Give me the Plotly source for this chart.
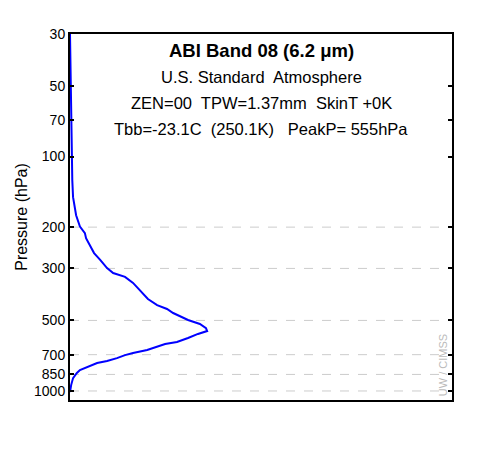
import plotly.graph_objects as go

# weighting function (arbitrary units, 0..1 of plot width)
pressure_hpa = [30, 50, 70, 91, 126, 149, 153, 178, 199, 212, 223, 238, 258, 276,
                299, 314, 326, 346, 371, 405, 430, 447, 465, 484, 498, 518, 539,
                555, 571, 594, 618, 630, 649, 669, 689, 703, 724, 745, 760, 790,
                814, 838, 881, 944, 1010]
weighting = [0.0, 0.002, 0.003, 0.004, 0.006, 0.008, 0.009, 0.016, 0.026, 0.039,
             0.042, 0.052, 0.063, 0.079, 0.097, 0.113, 0.144, 0.165, 0.183, 0.204,
             0.228, 0.254, 0.270, 0.293, 0.309, 0.340, 0.356, 0.359, 0.335, 0.309,
             0.280, 0.249, 0.223, 0.202, 0.165, 0.144, 0.123, 0.097, 0.071, 0.045,
             0.026, 0.018, 0.008, 0.003, 0.0]

tick_values = [30, 50, 70, 100, 200, 300, 500, 700, 850, 1000]
grid_values = [200, 300, 500, 700, 850, 1000]

title_lines = [
    "<b>ABI Band 08 (6.2 \u03bcm)</b>",
    "U.S. Standard  Atmosphere",
    "ZEN=00  TPW=1.37mm  SkinT +0K",
    "Tbb=-23.1C  (250.1K)   PeakP= 555hPa",
]

font_family = "Liberation Sans, Arial, sans-serif"

fig = go.Figure()
fig.add_trace(go.Scatter(
    x=weighting, y=pressure_hpa, mode="lines",
    line=dict(color="#0000ff", width=2), hoverinfo="skip", showlegend=False,
))

# dashed grid only at the lower levels
for p in grid_values:
    fig.add_shape(type="line", xref="paper", yref="y", x0=0, x1=0.985, y0=p, y1=p,
                  line=dict(color="#cccccc", width=1, dash="dash"), layer="below")

fig.update_xaxes(range=[0, 1], showticklabels=False, ticks="", showgrid=False,
                 zeroline=False, showline=True, linecolor="black", linewidth=2,
                 mirror=True)
fig.update_yaxes(type="log", range=[3.0385, 1.4771], tickvals=tick_values,
                 ticktext=[str(v) for v in tick_values], ticks="inside",
                 ticklen=4, tickwidth=2, tickcolor="black", showgrid=False,
                 zeroline=False, showline=True, linecolor="black", linewidth=2,
                 mirror="ticks", automargin=False,
                 title=dict(text="Pressure (hPa)", standoff=2, font=dict(size=16)),
                 tickfont=dict(size=14))

sizes = [18.5, 16.5, 16.5, 16.5]
ys = [50, 77, 103, 129]
for text, size, ypix in zip(title_lines, sizes, ys):
    fig.add_annotation(text=text, xref="paper", yref="paper", x=0.5,
                       y=(400 - ypix) / 366, showarrow=False,
                       font=dict(size=size, color="black"), yanchor="middle")

fig.add_annotation(text="UW / CIMSS", xref="paper", yref="paper",
                   x=(443 - 70) / 382, y=0.005, textangle=-90, showarrow=False,
                   font=dict(size=11, color="#bbbbbb"), xanchor="center",
                   yanchor="bottom")

# page body adds 8px, so margins are 8px smaller than the pixel positions
fig.update_layout(
    width=500, height=450,
    margin=dict(l=62, r=56, t=26, b=58),
    paper_bgcolor="white", plot_bgcolor="white",
    font=dict(family=font_family, color="black"),
)

fig.write_html("out.html")
